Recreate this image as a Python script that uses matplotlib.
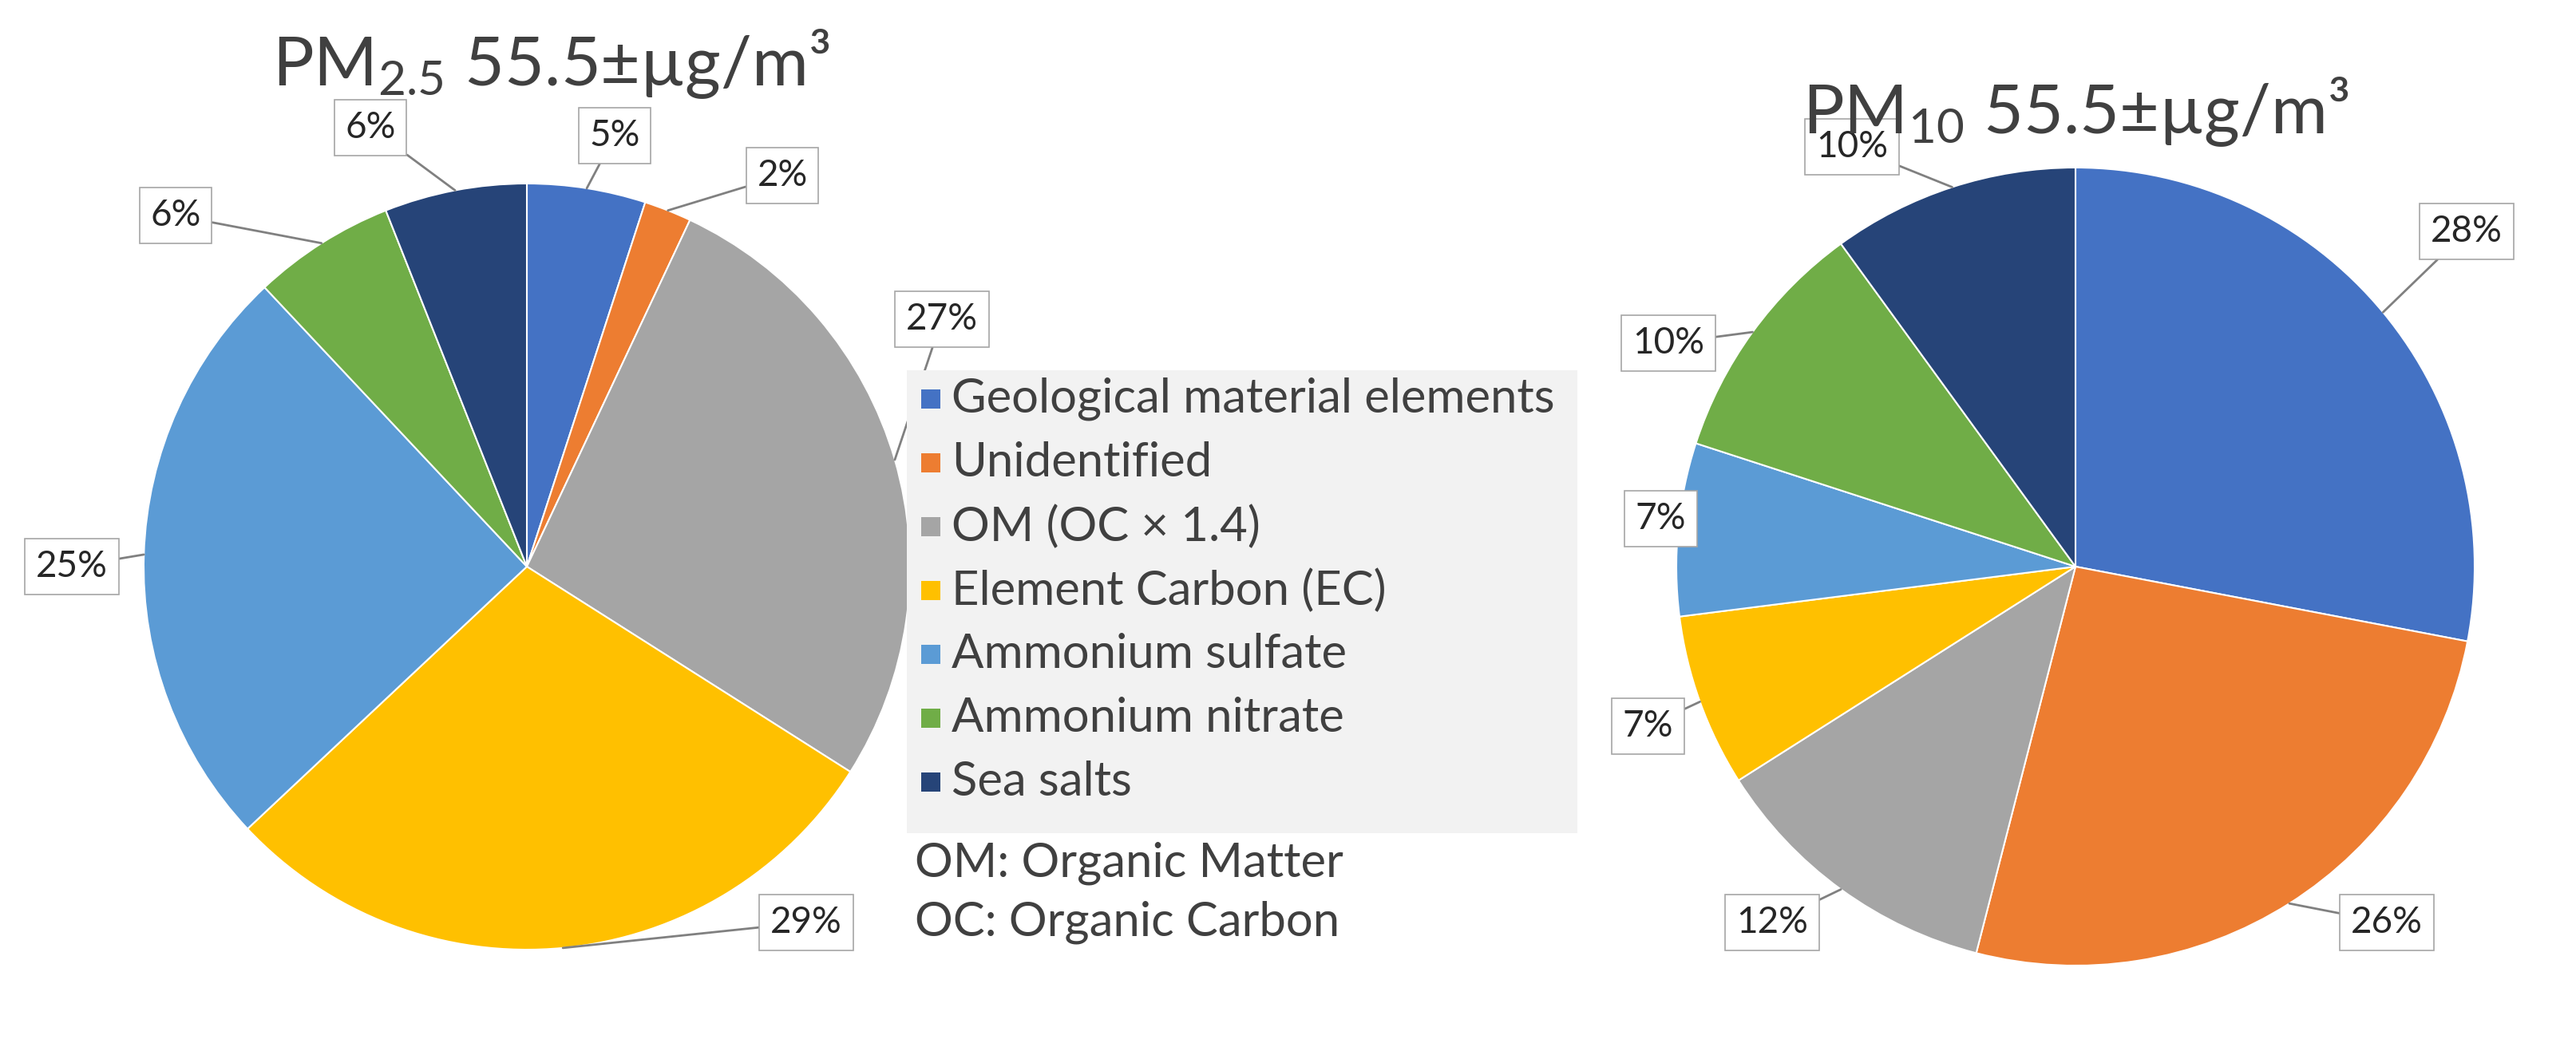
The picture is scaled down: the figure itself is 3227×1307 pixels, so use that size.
import matplotlib
matplotlib.use("Agg")
import matplotlib.pyplot as plt
from matplotlib.patches import Rectangle
import numpy as np

plt.rcParams['font.family'] = ['Lato', 'DejaVu Sans']
plt.rcParams['mathtext.fontset'] = 'custom'
plt.rcParams['mathtext.rm'] = 'Lato'
plt.rcParams['mathtext.it'] = 'Lato'

categories = ["Geological material elements", "Unidentified", "OM (OC × 1.4)",
              "Element Carbon (EC)", "Ammonium sulfate", "Ammonium nitrate", "Sea salts"]
colors = ["#4472C4", "#ED7D31", "#A5A5A5", "#FFC000", "#5B9BD5", "#70AD47", "#264478"]
pm25 = [5, 2, 27, 29, 25, 6, 6]
pm10 = [28, 26, 12, 7, 7, 10, 10]
notes = ["OM: Organic Matter", "OC: Organic Carbon"]

W, H = 1613.5, 653.5  # reference layout units
fig = plt.figure(figsize=(32.27, 13.07), dpi=100)

def make_pie(vals, cx, cy, r, label_px, title, tpos):
    ax = fig.add_axes([(cx - r) / W, 1 - (cy + r) / H, 2 * r / W, 2 * r / H])
    wedges, _ = ax.pie(vals, colors=colors, startangle=90, counterclock=False,
                       wedgeprops=dict(edgecolor='white', linewidth=1.5))
    ax.set_xlim(-1, 1); ax.set_ylim(-1, 1); ax.set_aspect('auto')
    for w, v, (px, py) in zip(wedges, vals, label_px):
        ang = np.deg2rad((w.theta1 + w.theta2) / 2)
        xy = (np.cos(ang), np.sin(ang))
        xt = ((px - cx) / r, (cy - py) / r)
        ax.annotate(f"{v}%", xy=xy, xytext=xt, ha='center', va='center',
                    fontsize=33, color='#262626', annotation_clip=False,
                    bbox=dict(boxstyle='square,pad=0.3', fc='white', ec='#a6a6a6', lw=1.2),
                    arrowprops=dict(arrowstyle='-', color='#808080', lw=2,
                                    shrinkA=0, shrinkB=0))
    fig.text(tpos[0] / W, 1 - tpos[1] / H, title, fontsize=62, color='#404040',
             ha='center', va='center')

make_pie(pm25, 330, 355, 240,
         [(385, 85), (490, 110), (590, 200), (505, 578), (45, 355), (110, 135), (232, 80)],
         "PM$_{2.5}$ 55.5±µg/m³", (345, 40))
make_pie(pm10, 1300, 355, 250,
         [(1545, 145), (1495, 578), (1110, 578), (1032, 455), (1040, 325), (1045, 215), (1160, 92)],
         "PM$_{10}$ 55.5±µg/m³", (1300, 70))

# legend
fig.patches.append(Rectangle((568 / W, 1 - 522 / H), (988 - 568) / W, (522 - 232) / H,
                             transform=fig.transFigure, fc='#f2f2f2', ec='none'))
for i, (c, lab) in enumerate(zip(colors, categories)):
    y = 250 + i * 40
    fig.patches.append(Rectangle((577 / W, 1 - (y + 6) / H), 12 / W, 12 / H,
                                 transform=fig.transFigure, fc=c, ec='none'))
    fig.text(596 / W, 1 - y / H, lab, fontsize=43, color='#404040', va='center')
for j, n in enumerate(notes):
    fig.text(573 / W, 1 - (541 + j * 37) / H, n, fontsize=43, color='#404040', va='center')

fig.savefig("out.png", dpi=100, facecolor='white')
